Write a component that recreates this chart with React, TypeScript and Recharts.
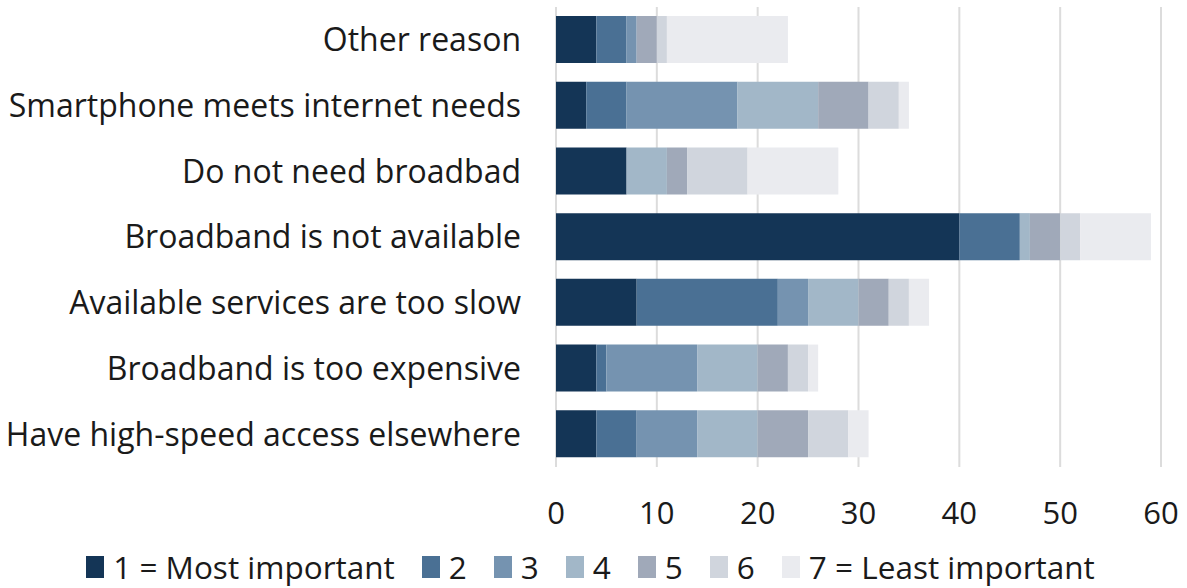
import { BarChart, Bar, XAxis, YAxis, CartesianGrid, Legend } from 'recharts'

const reasons = [
  'Other reason',
  'Smartphone meets internet needs',
  'Do not need broadbad',
  'Broadband is not available',
  'Available services are too slow',
  'Broadband is too expensive',
  'Have high-speed access elsewhere',
]

// counts per rank, same order as reasons
const rank1 = [4, 3, 7, 40, 8, 4, 4]
const rank2 = [3, 4, 0, 6, 14, 1, 4]
const rank3 = [1, 11, 0, 0, 3, 9, 6]
const rank4 = [0, 8, 4, 1, 5, 6, 6]
const rank5 = [2, 5, 2, 3, 3, 3, 5]
const rank6 = [1, 3, 6, 2, 2, 2, 4]
const rank7 = [12, 1, 9, 7, 2, 1, 2]

const rankNames = ['1 = Most important', '2', '3', '4', '5', '6', '7 = Least important']
const rankColors = ['#143556', '#4a7094', '#7593b0', '#a2b7c8', '#a0a9b9', '#d0d5dd', '#eaebef']
const xTicks = [0, 10, 20, 30, 40, 50, 60]

const ranks = [rank1, rank2, rank3, rank4, rank5, rank6, rank7]

const data = reasons.map((reason, i) => {
  const row: Record<string, string | number> = { reason }
  ranks.forEach((r, k) => {
    row[`r${k + 1}`] = r[i]
  })
  return row
})

const font = '"Open Sans", sans-serif'

const LegendContent = () => (
  <div
    style={{
      display: 'flex',
      justifyContent: 'center',
      alignItems: 'center',
      gap: 27,
      fontFamily: font,
      fontSize: 31.5,
      color: '#1a1a1a',
      marginTop: 8,
      marginLeft: 20,
    }}
  >
    {rankNames.map((name, k) => (
      <div key={name} style={{ display: 'flex', alignItems: 'center' }}>
        <span
          style={{
            display: 'inline-block',
            width: 18,
            height: 22,
            background: rankColors[k],
            marginRight: 9,
          }}
        />
        <span>{name}</span>
      </div>
    ))}
  </div>
)

export default function App() {
  return (
    <div style={{ position: 'absolute', left: 0, top: 0, width: 1187, height: 588, background: '#fff' }}>
      <BarChart
        width={1187}
        height={588}
        data={data}
        layout="vertical"
        margin={{ top: 7, right: 26, bottom: 0, left: 0 }}
        barSize={47}
      >
        <CartesianGrid horizontal={false} stroke="#dcdcdc" strokeWidth={2} />
        <XAxis
          type="number"
          domain={[0, 60]}
          ticks={xTicks}
          axisLine={false}
          tickLine={false}
          tickSize={0}
          tickMargin={35}
          height={70}
          tick={{ fontSize: 31, fill: '#1a1a1a', fontFamily: font }}
        />
        <YAxis
          type="category"
          dataKey="reason"
          width={556}
          axisLine={false}
          tickLine={false}
          tickSize={0}
          tickMargin={35}
          tick={{ fontSize: 32, fill: '#1a1a1a', fontFamily: font }}
        />
        <Legend verticalAlign="bottom" height={51} content={<LegendContent />} />
        {rankColors.map((c, k) => (
          <Bar
            key={k}
            dataKey={`r${k + 1}`}
            name={rankNames[k]}
            stackId="a"
            fill={c}
            isAnimationActive={false}
          />
        ))}
      </BarChart>
    </div>
  )
}
